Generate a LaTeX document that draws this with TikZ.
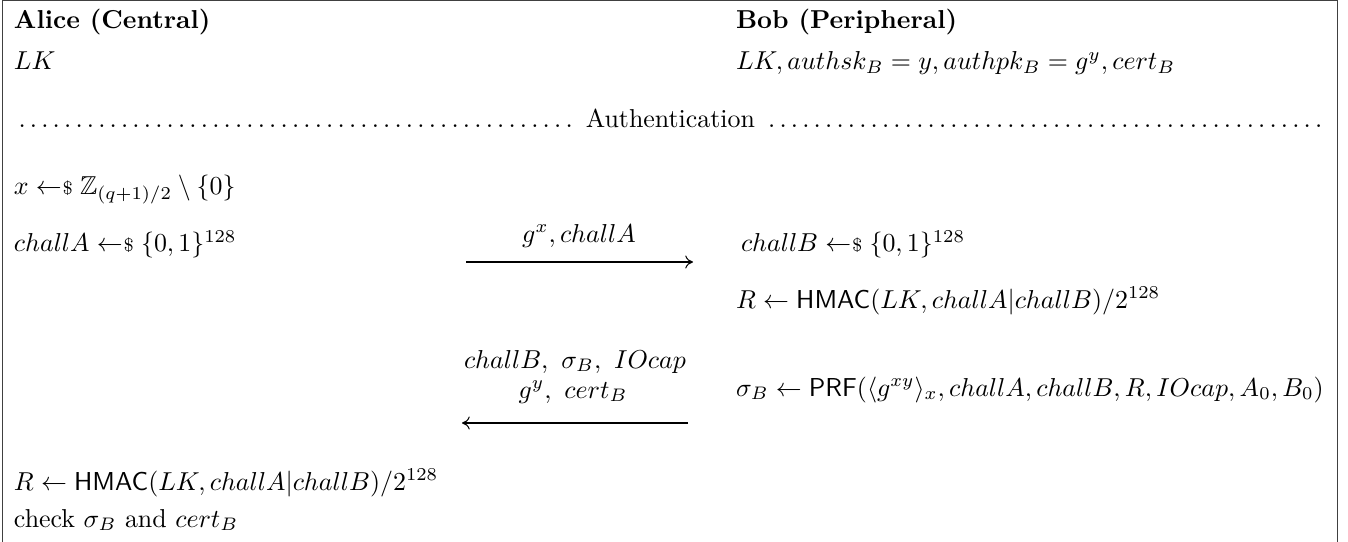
\documentclass[tikz,border=0pt]{standalone}
\usepackage{amsmath,amssymb}
\usetikzlibrary{arrows.meta}
\newcommand{\smpl}{\mathrel{\leftarrow\hspace{-2.5pt}\raisebox{0.3pt}{$\scriptstyle\$$}}}
\begin{document}
\begin{tikzpicture}[x=0.3861pt,y=-0.3861pt,
  txt/.style={anchor=base west,inner sep=0pt,outer sep=0pt},
  lbl/.style={anchor=base,inner sep=0pt,outer sep=0pt},
  msg/.style={line width=0.4pt,-{To[length=3pt,width=5pt]}},
  frame/.style={line width=0.5pt,draw=black!75}]
\useasboundingbox (0,0) rectangle (1348,542);
% frame (open at the bottom)
\coordinate (fbl) at (2.5,542);
\coordinate (ftl) at (2.5,0.7);
\coordinate (ftr) at (1337.5,0.7);
\coordinate (fbr) at (1337.5,542);
\draw[frame] (fbl) -- (ftl) -- (ftr) -- (fbr);
% headers
\node[txt] (alice) at (14,29) {\textbf{Alice (Central)}};
\node[txt] (bob) at (736,29) {\textbf{Bob (Peripheral)}};
\node[txt] (alk) at (14,70) {$LK$};
\node[txt] (blk) at (736,70) {$LK, authsk_B = y, authpk_B = g^y, cert_B$};
% separator
\node[txt] (sep) at (14,128) {\makebox[506.9pt]{\dotfill\ Authentication\ \dotfill}};
% Alice steps
\node[txt] (ax) at (14,195) {$x \smpl \mathbb{Z}_{(q+1)/2} \setminus \{0\}$};
\node[txt] (aca) at (14,252) {$challA \smpl \{0,1\}^{128}$};
% message 1
\coordinate (m1s) at (466,262);
\coordinate (m1e) at (693,262);
\draw[msg] (m1s) -- (m1e);
\node[lbl] (m1l) at (579,242) {$g^x, challA$};
% Bob steps
\node[txt] (bcb) at (741,252) {$challB \smpl \{0,1\}^{128}$};
\node[txt] (br) at (736,308) {$R \leftarrow \mathsf{HMAC}(LK, challA|challB)/2^{128}$};
\node[txt] (bsig) at (736,396) {$\sigma_B \leftarrow \mathsf{PRF}(\langle g^{xy}\rangle_x, challA, challB, R, IOcap, A_0, B_0)$};
% message 2
\node[lbl] (m2l1) at (575,368) {$challB,\ \sigma_B,\ IOcap$};
\node[lbl] (m2l2) at (573,398) {$g^y,\ cert_B$};
\coordinate (m2s) at (688,423);
\coordinate (m2e) at (462,423);
\draw[msg] (m2s) -- (m2e);
% Alice final steps
\node[txt] (ar) at (14,490) {$R \leftarrow \mathsf{HMAC}(LK, challA|challB)/2^{128}$};
\node[txt] (achk) at (14,527) {check $\sigma_B$ and $cert_B$};
\end{tikzpicture}
\end{document}
